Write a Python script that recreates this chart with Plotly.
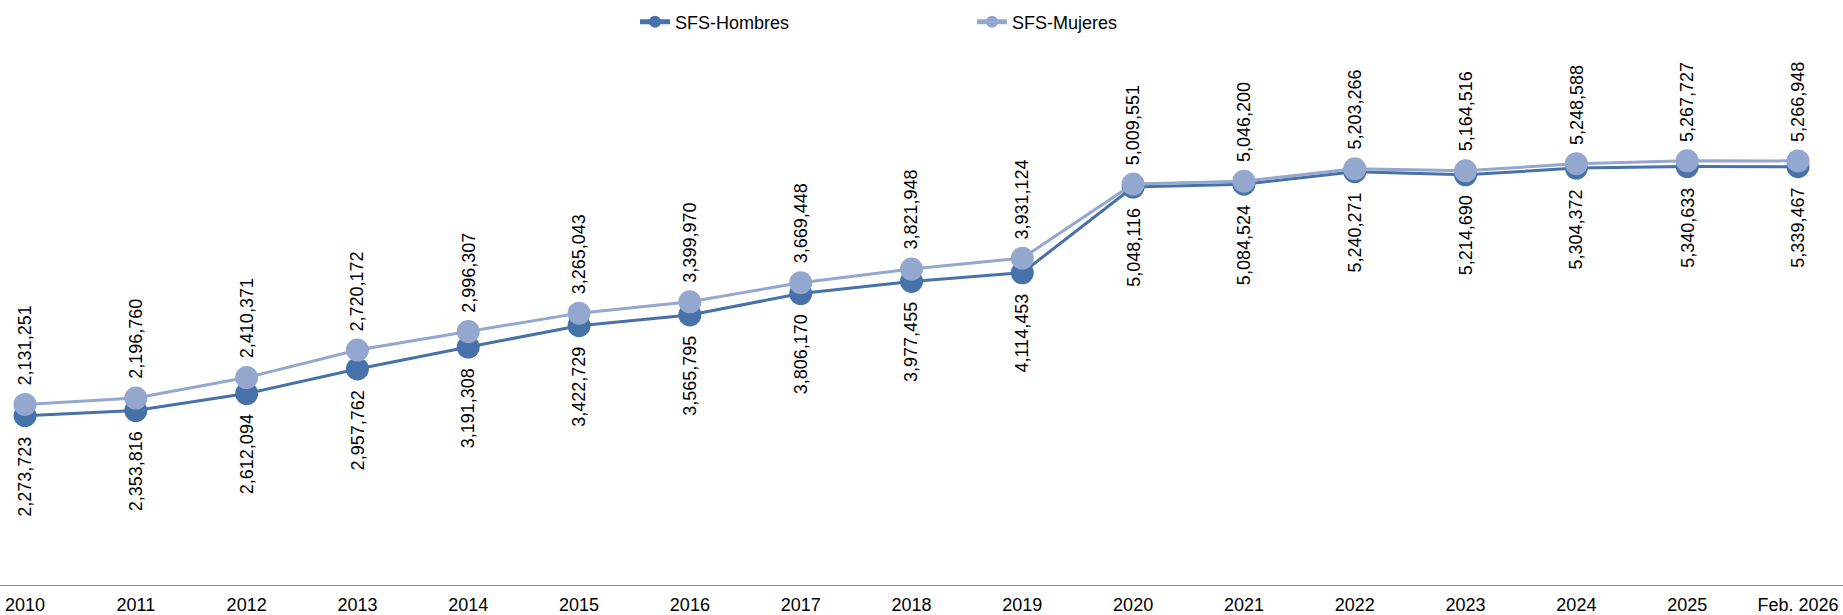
import plotly.graph_objects as go

categories = ["2010", "2011", "2012", "2013", "2014", "2015", "2016", "2017", "2018",
              "2019", "2020", "2021", "2022", "2023", "2024", "2025", "Feb. 2026"]
hombres = [2131251, 2196760, 2410371, 2720172, 2996307, 3265043, 3399970, 3669448, 3821948,
           3931124, 5009551, 5046200, 5203266, 5164516, 5248588, 5267727, 5266948]
mujeres = [2273723, 2353816, 2612094, 2957762, 3191308, 3422729, 3565795, 3806170, 3977455,
           4114453, 5048116, 5084524, 5240271, 5214690, 5304372, 5340633, 5339467]

DARK = "#4672A9"
LIGHT = "#94A7CE"
FONT = "Liberation Sans, Arial, sans-serif"

fig = go.Figure()
fig.add_trace(go.Scatter(x=categories, y=hombres, name="SFS-Hombres", mode="lines+markers",
                         line=dict(color=DARK, width=3), marker=dict(color=DARK, size=23)))
fig.add_trace(go.Scatter(x=categories, y=mujeres, name="SFS-Mujeres", mode="lines+markers",
                         line=dict(color=LIGHT, width=3), marker=dict(color=LIGHT, size=23)))

annotations = []
for i, (h, m) in enumerate(zip(hombres, mujeres)):
    upper, lower = max(h, m), min(h, m)
    annotations.append(dict(x=i, y=upper, text=f"{h:,}", textangle=-90, showarrow=False,
                            xanchor="center", yanchor="bottom", yshift=17,
                            font=dict(size=18, color="black", family=FONT)))
    annotations.append(dict(x=i, y=lower, text=f"{m:,}", textangle=-90, showarrow=False,
                            xanchor="center", yanchor="top", yshift=-19,
                            font=dict(size=18, color="black", family=FONT)))

fig.update_layout(
    width=1843, height=615,
    margin=dict(l=0, r=0, t=29, b=30, autoexpand=False),
    paper_bgcolor="white", plot_bgcolor="white",
    font=dict(family=FONT, size=18, color="black"),
    showlegend=True,
    legend=dict(orientation="h", xref="paper", x=635 / 1843, xanchor="left",
                yref="container", y=1 - 22 / 615, yanchor="middle",
                entrywidth=292, entrywidthmode="pixels", itemsizing="constant",
                font=dict(size=18, family=FONT, color="black"), bgcolor="rgba(0,0,0,0)"),
    annotations=annotations,
)
fig.update_xaxes(type="category", range=[-25 / 110.81, 16 + 45 / 110.81],
                 showline=True, linecolor="#8C8C8C", linewidth=1, showgrid=False,
                 ticks="", zeroline=False, ticklabelstandoff=3, automargin=False,
                 tickfont=dict(size=18, family=FONT, color="black"))
fig.update_yaxes(range=[0, 7000000], visible=False, showgrid=False, zeroline=False)

fig.write_html("out.html", config={"displayModeBar": False},
               post_script="document.body.style.margin='0';document.body.style.overflow='hidden';")
